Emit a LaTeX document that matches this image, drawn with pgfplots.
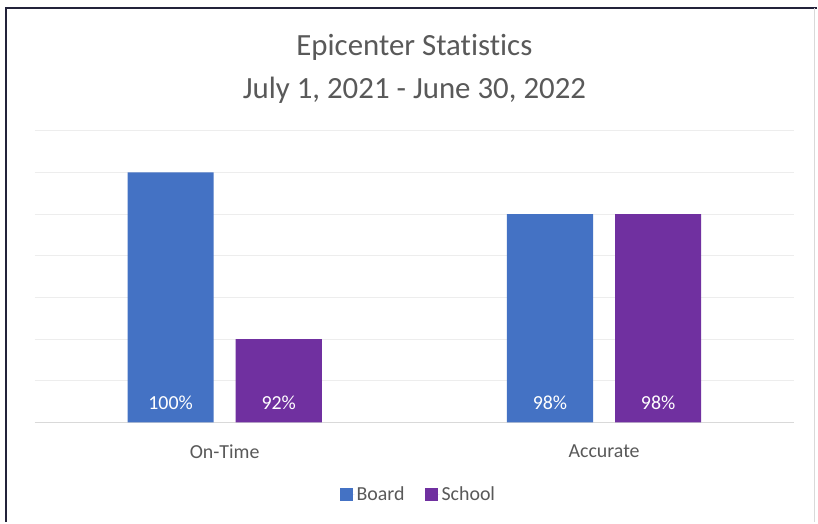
\documentclass[border=0pt]{standalone}
\usepackage{pgfplots}
\pgfplotsset{compat=1.18}
\usepackage{fontspec}
\setmainfont{Carlito}[Ligatures=NoCommon]
\definecolor{board}{HTML}{4472C4}
\definecolor{school}{HTML}{7030A0}
\definecolor{txt}{HTML}{595959}
\definecolor{grd}{HTML}{EDEDED}
\definecolor{base}{HTML}{D9D9D9}
\definecolor{frame}{HTML}{23233A}
\begin{document}
\begin{tikzpicture}[x=1bp,y=1bp]
\fill[white] (0,0) rectangle (818,523);
\draw[frame, line width=2.5bp] (6,0) -- (6,515) -- (818,515);
\draw[base, line width=1bp] (815.5,0) -- (815.5,515);
\begin{axis}[
  at={(35bp,100bp)}, anchor=south west,
  width=760bp, height=292bp, scale only axis,
  xmin=-0.5, xmax=1.5, ymin=88, ymax=102,
  ytick={88,90,...,102}, yticklabels={},
  xtick={0,1}, xticklabels={On-Time,Accurate},
  ymajorgrids, grid style={grd, line width=1bp},
  axis x line=bottom, axis y line=left,
  x axis line style={-, base, line width=1bp},
  y axis line style={draw=none},
  major tick length=0pt,
  tick label style={font=\fontsize{20}{24}\selectfont, text=txt},
  xticklabel style={yshift=-19bp},
  title={Epicenter Statistics\\July 1, 2021 - June 30, 2022},
  title style={font=\fontsize{31}{43}\selectfont, text=txt, align=center, at={(0.5,1)}, anchor=center, yshift=56bp},
  legend style={at={(0.5,-0.247)}, xshift=4bp, anchor=center, draw=none, fill=none, legend columns=2,
    font=\fontsize{20}{24}\selectfont, text=txt,
    /tikz/every even column/.append style={column sep=18bp}},
  legend image code/.code={\fill[#1] (0bp,-6.5bp) rectangle (13bp,6.5bp); \path (13bp,0) -- (15bp,0);},
  clip=false,
]
\addplot[ybar, bar width=0.227, bar shift=-0.1425, fill=board, draw=none] coordinates {(0,100) (1,98)};
\addlegendentry{Board}
\addplot[ybar, bar width=0.227, bar shift=0.1425, fill=school, draw=none] coordinates {(0,92) (1,98)};
\addlegendentry{School}
\addplot[forget plot, draw=none, mark=none, nodes near coords, point meta=explicit symbolic,
  every node near coord/.style={anchor=center, text=white, font=\fontsize{20}{24}\selectfont}]
  coordinates {(-0.1425,88.96)[100\%] (0.1425,88.96)[92\%] (0.8575,88.96)[98\%] (1.1425,88.96)[98\%]};
\end{axis}
\end{tikzpicture}
\end{document}
